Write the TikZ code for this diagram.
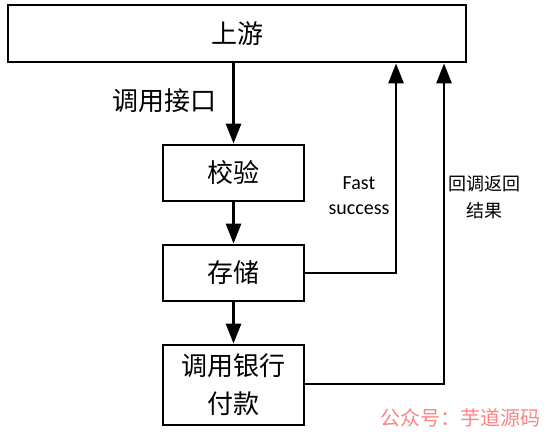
\documentclass[tikz,border=0pt]{standalone}
\usepackage{fontspec}
\setmainfont{Carlito}
\newfontfamily\cjk{Noto Sans CJK SC}
\usetikzlibrary{arrows.meta}
\begin{document}
\begin{tikzpicture}[x=1pt,y=-1pt,
  box/.style={draw,line width=2.8pt,fill=white,inner sep=0pt,font=\cjk\fontsize{26}{38}\selectfont,align=center},
  link/.style={line width=2.8pt,-{Triangle[width=15pt,length=20pt]}},
  lbl/.style={inner sep=0pt,align=center}]
\useasboundingbox (0,0) rectangle (551,441);
\node[box,minimum width=458pt,minimum height=57pt] (up) at (237,33.5) {上游};
\node[box,minimum width=141pt,minimum height=56pt] (jy) at (233.5,173) {校验};
\node[box,minimum width=141pt,minimum height=56pt] (cc) at (233.5,273) {存储};
\node[box,minimum width=141pt,minimum height=80pt] (fk) at (233.5,385) {调用银行\\付款};
\draw[link] (up.south -| jy.north) -- (jy.north);
\draw[link] (jy) -- (cc);
\draw[link] (cc) -- (fk);
\coordinate (c1) at (396,273);
\coordinate (c2) at (444,384);
\draw[link] (cc.east |- c1) -- (c1) -- (c1 |- up.south);
\draw[link] (fk.east |- c2) -- (c2) -- (c2 |- up.south);
\node[lbl,font=\cjk\fontsize{26}{30}\selectfont] (l1) at (164,101) {调用接口};
\node[lbl,font=\fontsize{20}{25}\selectfont] (l2) at (359,196) {Fast\\success};
\node[lbl,font=\cjk\fontsize{18}{27}\selectfont] (l3) at (484,197) {回调返回\\结果};
\node[lbl,font=\cjk\fontsize{20}{22}\selectfont,text=red!65!white,opacity=0.75] (wm) at (460,418) {公众号：芋道源码};
\end{tikzpicture}
\end{document}
